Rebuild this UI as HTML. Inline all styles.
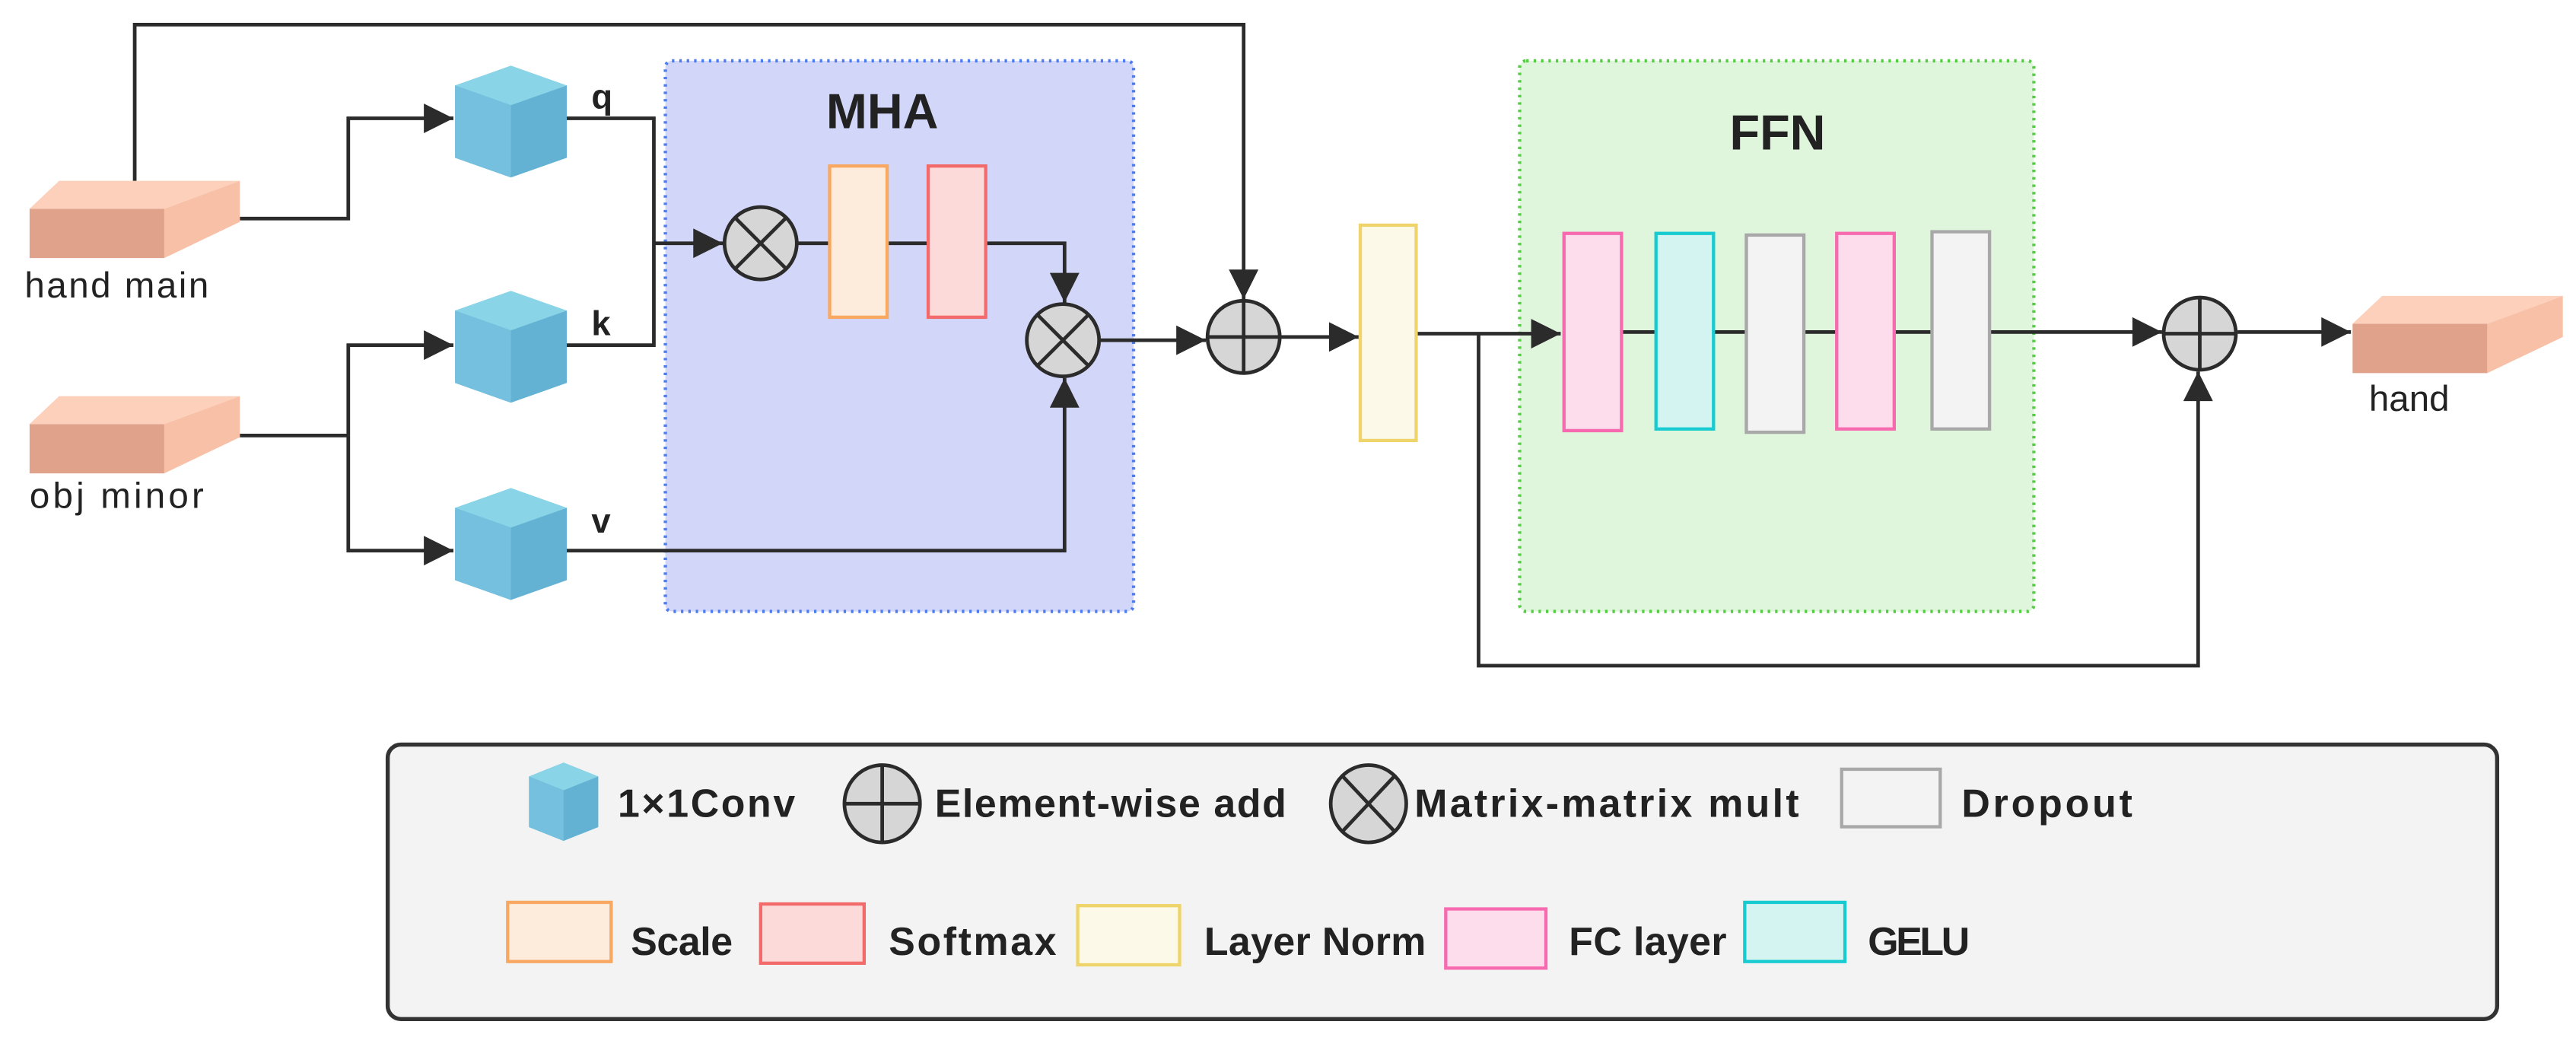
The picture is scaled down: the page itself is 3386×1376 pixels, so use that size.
<!DOCTYPE html>
<html><head><meta charset="utf-8"><style>
html,body{margin:0;padding:0;background:#fff;}
svg{display:block;}
text{font-family:"Liberation Sans",sans-serif;fill:#222;}
</style></head><body>
<svg width="3386" height="1376" viewBox="0 0 1568 637" preserveAspectRatio="none" xmlns="http://www.w3.org/2000/svg">
<defs>
<marker id="b" viewBox="0 0 10 10" refX="10" refY="5" markerWidth="20" markerHeight="18" orient="auto" markerUnits="userSpaceOnUse">
<path d="M0,0 L10,5 L0,10 z" fill="#2b2b2b"/></marker>
<g id="cube">
<polygon points="0,12 34,0 68,12 68,56 34,68 0,56" fill="#64b2d3"/>
<polygon points="0,12 34,0 68,12 34,24" fill="#8ad4e8"/>
<polygon points="0,12 34,24 34,68 0,56" fill="#74c0de"/>
</g>
<g id="box">
<rect x="0" y="17" width="82" height="30" fill="#e0a28a"/>
<polygon points="82,17 128,0 128,25 82,47" fill="#f8c0a6"/>
<polygon points="0,17 18,0 128,0 82,17" fill="#fcd0ba"/>
</g>
</defs>

<rect x="405" y="37" width="285" height="335" rx="4" fill="#d2d6f8" stroke="#4d7cf0" stroke-width="2" stroke-dasharray="1.5,3"/>
<text x="537" y="78" font-size="30" font-weight="bold" text-anchor="middle">MHA</text>
<rect x="925" y="37" width="313" height="335" rx="4" fill="#dff5dc" stroke="#55cc44" stroke-width="2" stroke-dasharray="1.5,3"/>
<text x="1082" y="91" font-size="30" font-weight="bold" text-anchor="middle">FFN</text>

<g stroke="#2b2b2b" stroke-width="2.2" fill="none">
<polyline points="82,112 82,15 757,15 757,182" marker-end="url(#b)"/>
<polyline points="146,133 212,133 212,72 276,72" marker-end="url(#b)"/>
<polyline points="146,265 212,265"/>
<polyline points="212,265 212,210 276,210" marker-end="url(#b)"/>
<polyline points="212,265 212,335 276,335" marker-end="url(#b)"/>
<polyline points="345,72 398,72 398,210 345,210"/>
<polyline points="398,148 440,148" marker-end="url(#b)"/>
<polyline points="486,148 505,148"/>
<polyline points="540,148 565,148"/>
<polyline points="600,148 648,148 648,184" marker-end="url(#b)"/>
<polyline points="345,335 648,335 648,230" marker-end="url(#b)"/>
<polyline points="670,207 734,207" marker-end="url(#b)"/>
<polyline points="780,205 827,205" marker-end="url(#b)"/>
<polyline points="862,203 950,203" marker-end="url(#b)"/>
<polyline points="900,203 900,405 1338,405 1338,226" marker-end="url(#b)"/>
<polyline points="987,202 1008,202"/><polyline points="1043,202 1063,202"/><polyline points="1098,202 1118,202"/><polyline points="1153,202 1176,202"/>
<polyline points="1211,202 1316,202" marker-end="url(#b)"/>
<polyline points="1362,202 1431,202" marker-end="url(#b)"/>
</g>

<use href="#cube" x="277" y="40"/>
<use href="#cube" x="277" y="177"/>
<use href="#cube" x="277" y="297"/>
<text x="360" y="66" font-size="21" font-weight="bold">q</text>
<text x="360" y="204" font-size="21" font-weight="bold">k</text>
<text x="360" y="324" font-size="21" font-weight="bold">v</text>

<use href="#box" x="18" y="110"/>
<use href="#box" x="18" y="241"/>
<text x="15" y="181" font-size="22" textLength="112">hand main</text>
<text x="18" y="309" font-size="22" textLength="106">obj minor</text>
<use href="#box" x="1432" y="180"/>
<text x="1442" y="250" font-size="22">hand</text>

<rect x="505" y="101" width="35" height="92" fill="#fdebdc" stroke="#f8a860" stroke-width="2"/>
<rect x="565" y="101" width="35" height="92" fill="#fddada" stroke="#f26a6a" stroke-width="2"/>
<rect x="828" y="137" width="34" height="131" fill="#fcf9e9" stroke="#eed46a" stroke-width="2"/>
<rect x="952" y="142" width="35" height="120" fill="#fddcec" stroke="#f76ab0" stroke-width="2"/>
<rect x="1008" y="142" width="35" height="119" fill="#d4f4f2" stroke="#18cbd0" stroke-width="2"/>
<rect x="1063" y="143" width="35" height="120" fill="#f2f3f2" stroke="#a8a8a8" stroke-width="2"/>
<rect x="1118" y="142" width="35" height="119" fill="#fddcec" stroke="#f76ab0" stroke-width="2"/>
<rect x="1176" y="141" width="35" height="120" fill="#f2f3f2" stroke="#a8a8a8" stroke-width="2"/>

<g stroke="#2b2b2b" stroke-width="2.2">
<circle cx="463" cy="148" r="22" fill="#d6d6d6"/>
<line x1="448" y1="133" x2="478" y2="163"/><line x1="478" y1="133" x2="448" y2="163"/>
<circle cx="647" cy="207" r="22" fill="#d6d6d6"/>
<line x1="632" y1="192" x2="662" y2="222"/><line x1="662" y1="192" x2="632" y2="222"/>
<circle cx="757" cy="205" r="22" fill="#d6d6d6"/>
<line x1="735" y1="205" x2="779" y2="205"/><line x1="757" y1="183" x2="757" y2="227"/>
<circle cx="1339" cy="203" r="22" fill="#d6d6d6"/>
<line x1="1317" y1="203" x2="1361" y2="203"/><line x1="1339" y1="181" x2="1339" y2="225"/>
</g>

<!-- legend -->
<rect x="236" y="453" width="1284" height="167" rx="8" fill="#f2f3f2" stroke="#333" stroke-width="2.5"/>
<g transform="translate(322,464) scale(0.62,0.7)"><use href="#cube"/></g>
<text x="376" y="497" font-size="24" font-weight="bold" textLength="108">1×1Conv</text>
<g stroke="#2b2b2b" stroke-width="2.2">
<ellipse cx="537" cy="489" rx="23" ry="23.5" fill="#d6d6d6"/>
<line x1="514" y1="489" x2="560" y2="489"/><line x1="537" y1="466" x2="537" y2="512"/>
<ellipse cx="833" cy="489" rx="23" ry="23.5" fill="#d6d6d6"/>
<line x1="817" y1="472" x2="849" y2="506"/><line x1="849" y1="472" x2="817" y2="506"/>
</g>
<text x="569" y="497" font-size="24" font-weight="bold" textLength="214">Element-wise add</text>
<text x="861" y="497" font-size="24" font-weight="bold" textLength="234">Matrix-matrix mult</text>
<rect x="1121" y="468" width="60" height="35" fill="#f2f3f2" stroke="#a8a8a8" stroke-width="2"/>
<text x="1194" y="497" font-size="24" font-weight="bold" textLength="104">Dropout</text>

<rect x="309" y="549" width="63" height="36" fill="#fdebdc" stroke="#f8a860" stroke-width="2"/>
<text x="384" y="581" font-size="24" font-weight="bold" textLength="62">Scale</text>
<rect x="463" y="550" width="63" height="36" fill="#fddada" stroke="#f26a6a" stroke-width="2"/>
<text x="541" y="581" font-size="24" font-weight="bold" textLength="102">Softmax</text>
<rect x="656" y="551" width="62" height="36" fill="#fcf9e9" stroke="#eed46a" stroke-width="2"/>
<text x="733" y="581" font-size="24" font-weight="bold" textLength="135">Layer Norm</text>
<rect x="880" y="553" width="61" height="36" fill="#fddcec" stroke="#f76ab0" stroke-width="2"/>
<text x="955" y="581" font-size="24" font-weight="bold" textLength="96">FC layer</text>
<rect x="1062" y="549" width="61" height="36" fill="#d4f4f2" stroke="#18cbd0" stroke-width="2"/>
<text x="1137" y="581" font-size="24" font-weight="bold" textLength="62">GELU</text>
</svg>
</body></html>
